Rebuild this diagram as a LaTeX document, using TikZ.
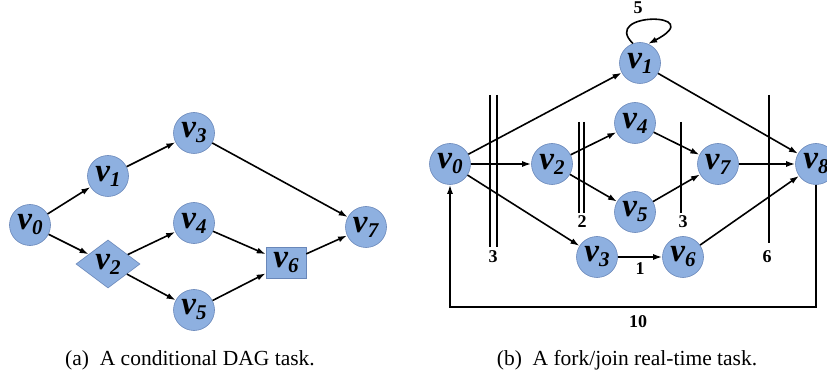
\documentclass[tikz,border=0pt]{standalone}
\usepackage{fontspec}
\setmainfont{Liberation Serif}
\usetikzlibrary{arrows.meta,shapes.geometric}

\definecolor{nodeblue}{RGB}{142,176,224}
\definecolor{nodeedge}{RGB}{105,135,185}

\newcommand{\vtx}[1]{\textbf{\textit{v}}\raisebox{-0.33ex}{\fontsize{21}{21}\selectfont\textbf{\textit{#1}}}}

\tikzset{every picture/.style={line width=1.6pt}}
\tikzset{
  vert/.style={circle,draw=nodeedge,line width=0.6pt,fill=nodeblue,minimum size=41pt,inner sep=0pt,font=\fontsize{33}{33}\selectfont},
  cond/.style={diamond,draw=nodeedge,line width=0.6pt,fill=nodeblue,minimum width=64pt,minimum height=48pt,inner sep=0pt,font=\fontsize{33}{33}\selectfont},
  joinbox/.style={rectangle,draw=nodeedge,line width=0.6pt,fill=nodeblue,minimum width=40pt,minimum height=31pt,inner sep=0pt,font=\fontsize{33}{33}\selectfont},
  arr/.style={-{Latex[length=9pt,width=6pt]}},
  wgt/.style={font=\fontsize{18}{18}\selectfont\bfseries,inner sep=1pt},
  capt/.style={font=\fontsize{21.5}{21.5}\selectfont,inner sep=0pt}
}

\begin{document}
\begin{tikzpicture}[x=1pt,y=1pt,yscale=-1,xscale=1]
\useasboundingbox (0,0) rectangle (827,379);

%(a) conditional DAG
\node[vert] (a0) at (30,225) {\vtx{0}};
\node[vert] (a1) at (108,176) {\vtx{1}};
\node[vert] (a3) at (194,133) {\vtx{3}};
\node[cond] (a2) at (108,264) {\vtx{2}};
\node[vert] (a4) at (194,223) {\vtx{4}};
\node[vert] (a5) at (194,310) {\vtx{5}};
\node[joinbox] (a6) at (286,263) {\vtx{6}};
\node[vert] (a7) at (366,227) {\vtx{7}};

\draw[arr] (a0) -- (a1);
\draw[arr] (a0) -- (a2);
\draw[arr] (a1) -- (a3);
\draw[arr] (a2) -- (a4);
\draw[arr] (a2) -- (a5);
\draw[arr] (a3) -- (a7);
\draw[arr] (a4) -- (a6);
\draw[arr] (a5) -- (a6);
\draw[arr] (a6) -- (a7);

%(b) fork/join task
\node[vert] (b0) at (450,164) {\vtx{0}};
\node[vert] (b1) at (640,63) {\vtx{1}};
\node[vert] (b2) at (552,164) {\vtx{2}};
\node[vert] (b4) at (635,123) {\vtx{4}};
\node[vert] (b5) at (635,212) {\vtx{5}};
\node[vert] (b7) at (718,164) {\vtx{7}};
\node[vert] (b8) at (816,164) {\vtx{8}};
\node[vert] (b3) at (597,257) {\vtx{3}};
\node[vert] (b6) at (683,257) {\vtx{6}};

\draw[arr] (b0) -- (b1);
\draw[arr] (b0) -- (b2);
\draw[arr] (b0) -- (b3);
\draw[arr] (b2) -- (b4);
\draw[arr] (b2) -- (b5);
\draw[arr] (b4) -- (b7);
\draw[arr] (b5) -- (b7);
\draw[arr] (b7) -- (b8);
\draw[arr] (b1) -- (b8);
\draw[arr] (b6) -- (b8);
\draw[arr] (b3) -- node[wgt,below=4pt] (w1) {1} (b6);
%self loop
\draw[arr] (b1.110) .. controls +(-33,-32) and +(62,-32) .. (b1.67);
\node[wgt] (w5) at (638,8) {5};
%back edge
\draw[arr] (b8.south) -- (b8.south |- 0,307) -| (b0.south);
\node[wgt] (w10) at (638,322) {10};

%Straight Lines (cuts)
\draw (490,95) -- (490,247);
\draw (497,95) -- (497,247);
\node[wgt,anchor=north] (c1) at (493,249) {3};
\draw (579,122) -- (579,213);
\draw (584,122) -- (584,213);
\node[wgt,anchor=north] (c2) at (582,214) {2};
\draw (681,122) -- (681,213);
\node[wgt,anchor=north] (c3) at (683,214) {3};
\draw (769,95) -- (769,243);
\node[wgt,anchor=north] (c4) at (767,249) {6};

% Text Node
\node[capt] (capa) at (190,360) {(a)\enspace A conditional DAG task.};
% Text Node
\node[capt] (capb) at (627,360) {(b)\enspace A fork/join real-time task.};

\end{tikzpicture}
\end{document}
